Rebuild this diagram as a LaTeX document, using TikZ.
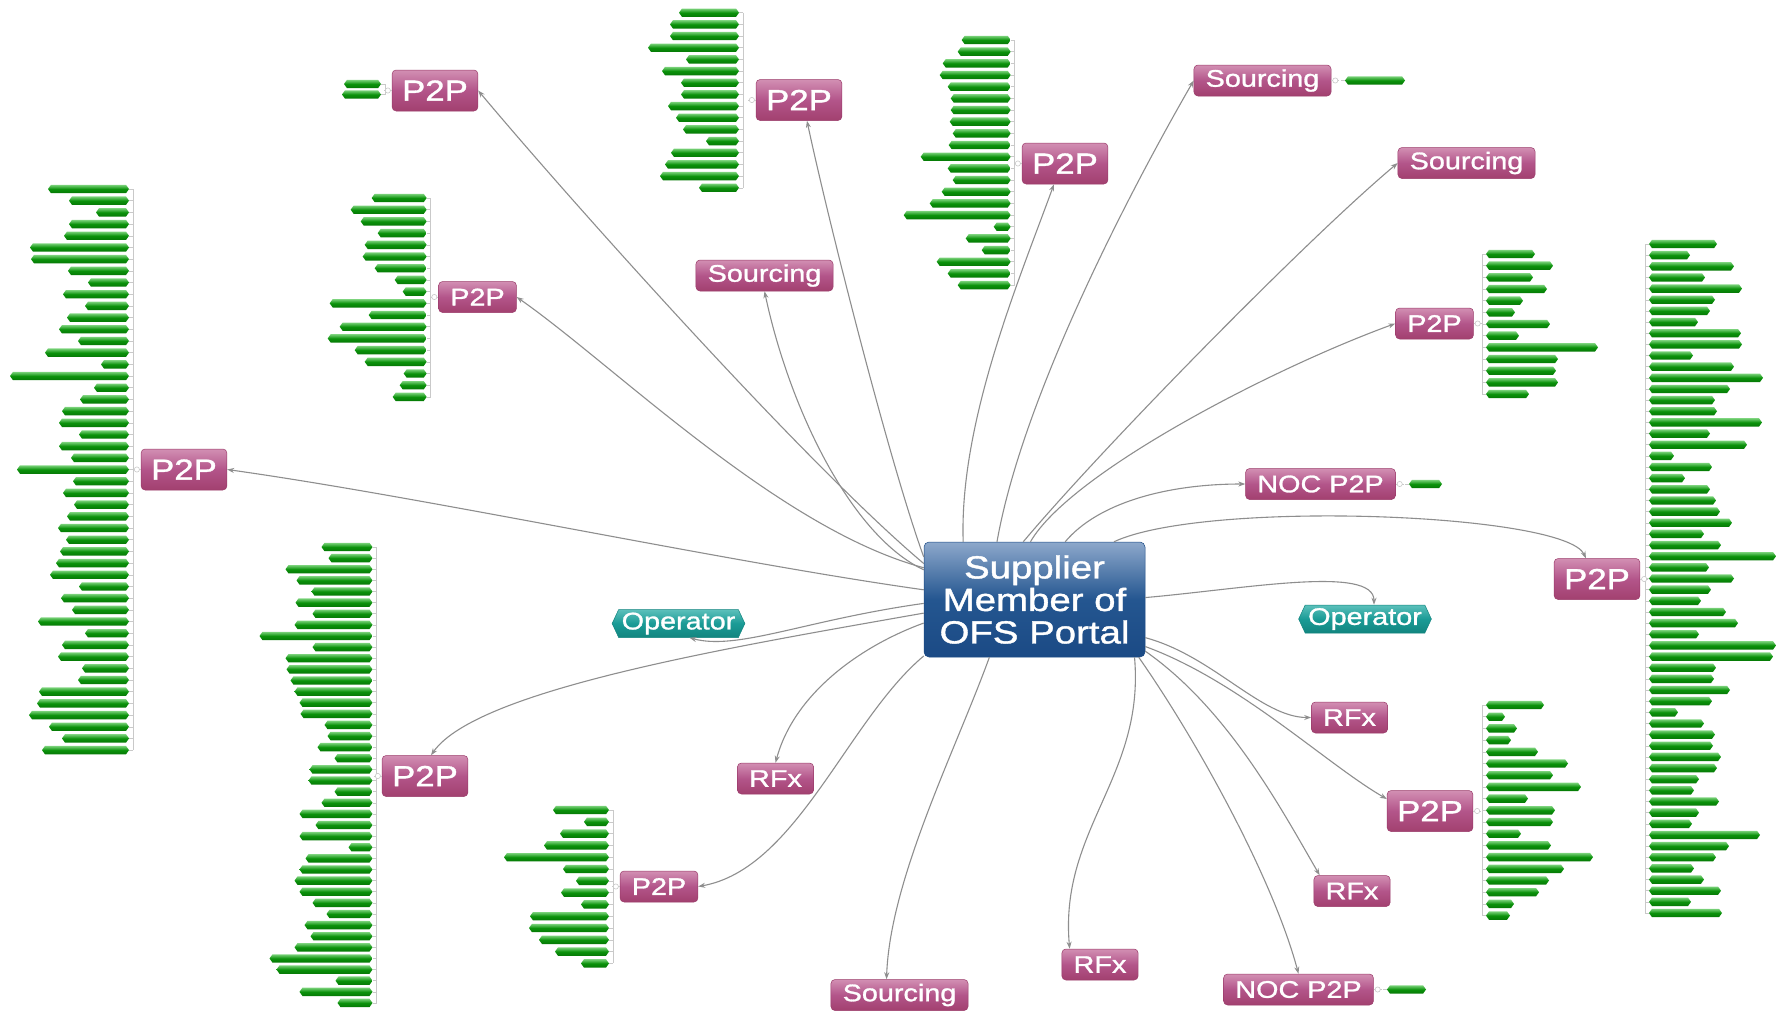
\documentclass[tikz,border=0pt]{standalone}
\usepackage{fontspec}
\newfontfamily\wf{Liberation Sans}[FakeStretch=1.2,FakeBold=1.2]
\usetikzlibrary{arrows.meta,shapes.symbols}
\definecolor{pkTop}{HTML}{D28FB3}
\definecolor{pkMid}{HTML}{B3558A}
\definecolor{pkBot}{HTML}{A2406F}
\definecolor{pkLine}{HTML}{9A3A69}
\definecolor{ctTop}{HTML}{8DA8CB}
\definecolor{ctMid}{HTML}{245690}
\definecolor{ctBot}{HTML}{1B4A85}
\definecolor{opTop}{HTML}{5CC0BB}
\definecolor{opMid}{HTML}{1A9B96}
\definecolor{opBot}{HTML}{12857F}
\definecolor{gTop}{HTML}{7AD27A}
\definecolor{gMid}{HTML}{0B920B}
\definecolor{gBot}{HTML}{067806}
\definecolor{lnGrey}{HTML}{8E8E8E}
\definecolor{brGrey}{HTML}{C9C9C9}
\tikzset{
  pk/.style={rectangle, rounded corners=4pt, top color=pkTop, bottom color=pkBot, middle color=pkMid, draw=pkLine, line width=0.5pt, text=white, inner xsep=11.7pt, inner ysep=0pt, minimum height=31pt, font=\wf\fontsize{24}{24}\selectfont},
  pkL/.style={pk, inner xsep=10pt, minimum height=41pt, font=\wf\fontsize{29}{29}\selectfont},
  ctr/.style={rectangle, rounded corners=5pt, top color=ctTop, bottom color=ctBot, middle color=ctMid, draw=ctBot, line width=0.5pt, text=white, align=center, minimum width=221pt, minimum height=115pt, inner sep=0pt, font=\wf\fontsize{32}{32.5}\selectfont},
  opn/.style={signal, signal to=west and east, signal pointer angle=130, top color=opTop, bottom color=opBot, middle color=opMid, draw=opBot, line width=0.5pt, text=white, inner xsep=3pt, inner ysep=0pt, minimum height=28pt, font=\wf\fontsize{24}{24}\selectfont},
  conn/.style={draw=lnGrey, line width=1.1pt, -{Stealth[length=7pt,width=5pt]}},
  gbar/.style={top color=gTop, bottom color=gBot, middle color=gMid},
  brk/.style={draw=brGrey, line width=0.8pt},
  knobst/.style={draw=brGrey, fill=white, line width=0.6pt},
}
% bars to the left of a parent: #1 right x, #2 first y, #3 step, #4 widths, #5 count
\newcommand{\barsL}[5]{%
  \draw[brk] (#1+4,-#2) -- ({#1+4},{-(#2+(#5-1)*#3)});
  \foreach \w [count=\i from 0] in {#4} {%
    \pgfmathsetmacro{\yy}{-(#2+\i*#3)}%
    \draw[brk, line width=0.5pt] (#1,\yy) -- (#1+4,\yy);
    \path[gbar] (#1-\w,\yy) -- (#1-\w+3,\yy+4.2) -- (#1-3,\yy+4.2) -- (#1,\yy) -- (#1-3,\yy-4.2) -- (#1-\w+3,\yy-4.2) -- cycle;
  }}
% bars to the right of a parent: #1 left x
\newcommand{\barsR}[5]{%
  \draw[brk] (#1-4,-#2) -- ({#1-4},{-(#2+(#5-1)*#3)});
  \foreach \w [count=\i from 0] in {#4} {%
    \pgfmathsetmacro{\yy}{-(#2+\i*#3)}%
    \draw[brk, line width=0.5pt] (#1-4,\yy) -- (#1,\yy);
    \path[gbar] (#1,\yy) -- (#1+3,\yy+4.2) -- (#1+\w-3,\yy+4.2) -- (#1+\w,\yy) -- (#1+\w-3,\yy-4.2) -- (#1+3,\yy-4.2) -- cycle;
  }}
\newcommand{\knobL}[1]{\draw[brk] (#1.west) -- ++(-8,0); \path[knobst] ([xshift=-4pt]#1.west) circle (2.6pt);}
\newcommand{\knobR}[1]{\draw[brk] (#1.east) -- ++(8,0); \path[knobst] ([xshift=4pt]#1.east) circle (2.6pt);}
\begin{document}
\begin{tikzpicture}[x=1pt,y=1pt]
\fill[white] (0,0) rectangle (1777,-1012);
\useasboundingbox (0,0) rectangle (1777,-1012);

% ---------- nodes ----------
\node[ctr] (c) at (1034.5,-599.5) {Supplier\\Member of\\OFS Portal};
\node[pkL] (n1) at (435,-90.5) {P2P};
\node[pkL] (n2) at (799,-100) {P2P};
\node[pkL] (n3) at (1065,-163.5) {P2P};
\node[pk] (s1) at (1262.5,-80.5) {Sourcing};
\node[pk] (s2) at (1466.5,-163) {Sourcing};
\node[pk] (s3) at (764.5,-275.5) {Sourcing};
\node[pk] (n7) at (477.5,-297) {P2P};
\node[pk] (n8) at (1434.5,-323.5) {P2P};
\node[pk] (noc1) at (1320.5,-484) {NOC P2P};
\node[pkL] (n10) at (184,-469.5) {P2P};
\node[pkL] (n11) at (1597,-579) {P2P};
\node[opn] (opl) at (678.5,-623.5) {Operator};
\node[opn] (opr) at (1365,-619) {Operator};
\node[pkL] (n14) at (425,-776) {P2P};
\node[pk] (rfl) at (775.5,-778.5) {RFx};
\node[pk] (n16) at (659,-886.5) {P2P};
\node[pk] (rfrt) at (1349.5,-717.5) {RFx};
\node[pkL] (n18) at (1430,-811) {P2P};
\node[pk] (rfrl) at (1352,-891) {RFx};
\node[pk] (rfb) at (1100,-964.5) {RFx};
\node[pk] (s4) at (899.5,-995) {Sourcing};
\node[pk] (noc2) at (1298.5,-989.5) {NOC P2P};

% ---------- green bar groups ----------
\barsL{381}{84}{10.5}{37,39}{2}
\barsL{739}{12.7}{11.67}{60,69,69,91,53,77,58,58,71,63,56,33,68,74,79,40}{16}
\barsL{1010.7}{40}{11.67}{49,53,68,71,63,60,60,61,58,62,90,63,58,69,81,107,17,45,29,74,63,53}{22}
\barsL{426.7}{198}{11.7}{55,76,66,49,62,64,52,32,24,97,58,87,99,72,62,23,27,34}{18}
\barsL{129}{189}{11.69}{81,60,33,60,65,99,98,61,41,66,44,62,70,51,84,28,119,35,49,67,70,50,70,58,112,56,66,55,62,71,63,69,73,79,50,68,57,91,44,67,71,47,51,90,92,100,80,67,87}{49}
\barsL{372.5}{547}{11.12}{51,44,87,76,61,77,60,78,113,60,87,86,82,78,73,72,48,45,55,38,63,64,38,51,73,57,73,24,67,73,78,73,60,46,68,62,78,103,96,37,73,35}{42}
\barsL{609}{810}{11.8}{56,25,49,65,105,46,33,48,28,79,80,70,54,28}{14}
\barsR{1486}{254}{11.67}{49,67,47,61,37,29,64,33,112,72,70,72,43}{13}
\barsR{1649}{244}{11.15}{68,41,85,56,93,66,61,49,92,93,44,85,114,81,66,68,113,61,98,25,63,36,61,67,71,83,55,72,127,60,85,62,52,77,89,50,127,124,67,65,81,63,29,55,66,64,72,68,50,45,70,50,43,111,80,67,45,55,72,42,73}{61}
\barsR{1486}{705}{11.7}{58,19,31,25,52,82,67,95,42,69,67,35,65,107,78,63,53,28,24}{19}
\barsR{1345}{80.5}{0}{60}{1}
\barsR{1409}{484}{0}{33}{1}
\barsR{1387}{989.5}{0}{39}{1}

\knobL{n1}\knobL{n2}\knobL{n3}\knobL{n7}\knobL{n10}\knobL{n14}\knobL{n16}
\knobR{n8}\knobR{n11}\knobR{n18}\knobR{s1}\knobR{noc1}\knobR{noc2}

% ---------- connectors ----------
\draw[conn] (c.162) .. controls +(140:150) and +(-50:150) .. (n1.east);
\draw[conn] (c.159) .. controls +(110:100) and +(-78:100) .. (n2.-69);
\draw[conn] (c.141) .. controls +(92:120) and +(-110:100) .. (n3.-118);
\draw[conn] (c.123) .. controls +(80:150) and +(-120:120) .. (s1.west);
\draw[conn] (c.101) .. controls +(50:120) and +(-140:120) .. (s2.west);
\draw[conn] (c.165) .. controls +(155:80) and +(-78:120) .. (s3.south);
\draw[conn] (c.164) .. controls +(165:150) and +(-35:120) .. (n7.east);
\draw[conn] (c.94) .. controls +(60:80) and +(200:130) .. (n8.west);
\draw[conn] (c.62) .. controls +(50:50) and +(180:80) .. (noc1.west);
\draw[conn] (c.175) .. controls +(172:200) and +(-8:200) .. (n10.east);
\draw[conn] (c.36) .. controls +(25:100) and +(115:50) .. (n11.118);
\draw[conn] (c.1) .. controls +(5:100) and +(90:40) .. ([xshift=9pt]opr.north);
\draw[conn] (c.-19) .. controls +(-15:70) and +(180:50) .. (rfrt.west);
\draw[conn] (c.-23) .. controls +(-20:100) and +(150:70) .. ([yshift=12pt]n18.west);
\draw[conn] (c.-25) .. controls +(-35:100) and +(120:80) .. ([xshift=6pt]rfrl.north west);
\draw[conn] (c.-29) .. controls +(-55:100) and +(105:100) .. (noc2.north);
\draw[conn] (c.-30) .. controls +(-85:120) and +(95:120) .. ([xshift=8pt]rfb.north west);
\draw[conn] (c.-128) .. controls +(-110:100) and +(88:100) .. ([xshift=-13pt]s4.north);
\draw[conn] (c.207) .. controls +(-140:100) and +(10:100) .. (n16.east);
\draw[conn] (c.192) .. controls +(200:70) and +(75:70) .. (rfl.north);
\draw[conn] (c.187) .. controls +(190:200) and +(55:80) .. ([xshift=6pt]n14.north);
\draw[conn] (c.182) .. controls +(188:120) and +(-15:50) .. ([xshift=11pt]opl.south);
\end{tikzpicture}
\end{document}
